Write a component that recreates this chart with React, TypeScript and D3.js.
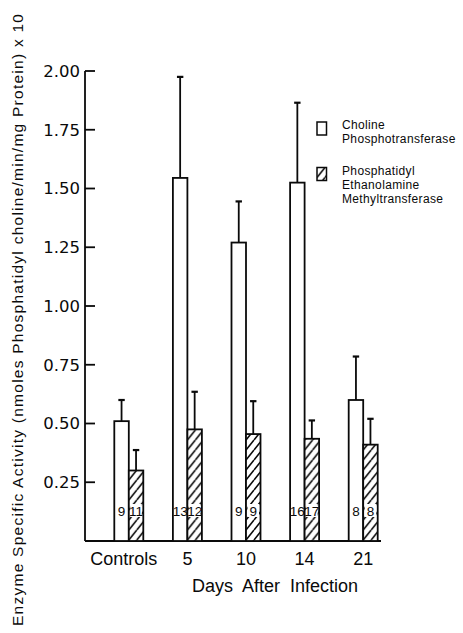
import React, { useEffect, useRef } from 'react';
import * as d3 from 'd3';

const categories = ['Controls', '5', '10', '14', '21'];
const cholineMean = [0.51, 1.545, 1.27, 1.525, 0.6];
const cholineSE = [0.09, 0.43, 0.175, 0.34, 0.185];
const cholineN = ['9', '13', '9', '16', '8'];
const pemtMean = [0.3, 0.475, 0.455, 0.435, 0.41];
const pemtSE = [0.087, 0.16, 0.14, 0.078, 0.11];
const pemtN = ['11', '12', '9', '17', '8'];
const yTicks = [0.25, 0.5, 0.75, 1.0, 1.25, 1.5, 1.75, 2.0];

const legendItems = [
  { hatched: false, lines: ['Choline', 'Phosphotransferase'] },
  { hatched: true, lines: ['Phosphatidyl', 'Ethanolamine', 'Methyltransferase'] },
];

export default function App() {
  const svgRef = useRef<SVGSVGElement>(null);

  useEffect(() => {
    const svg = d3.select(svgRef.current);
    svg.selectAll('*').remove();

    const font = 'Liberation Sans, Arial, sans-serif';
    const axisX = 85;
    const baseY = 541;
    const barW = 14.5;
    const ink = '#0a0a0a';

    const x = d3.scaleBand().domain(categories).range([99.5, 392.5]).padding(0);
    const y = d3.scaleLinear().domain([0, 2]).range([baseY, 71]);

    // "/" hatching, one stripe per tile so it repeats cleanly
    const pw = 8;
    const ph = 10;
    const defs = svg.append('defs');
    const pat = defs
      .append('pattern')
      .attr('id', 'hatch')
      .attr('patternUnits', 'userSpaceOnUse')
      .attr('width', pw)
      .attr('height', ph);
    pat.append('rect').attr('width', pw).attr('height', ph).attr('fill', '#fff');
    pat
      .append('path')
      .attr(
        'd',
        `M0,${ph} L${pw},0 M${-pw},${ph} L0,0 M${pw},${ph} L${2 * pw},0`
      )
      .attr('stroke', ink)
      .attr('stroke-width', 1.6);

    // y axis
    svg
      .append('line')
      .attr('x1', axisX)
      .attr('x2', axisX)
      .attr('y1', y(2))
      .attr('y2', baseY)
      .attr('stroke', ink)
      .attr('stroke-width', 1.8);

    const ticks = svg.append('g');
    ticks
      .selectAll('line')
      .data(yTicks)
      .join('line')
      .attr('x1', axisX)
      .attr('x2', axisX + 10)
      .attr('y1', (d) => y(d))
      .attr('y2', (d) => y(d))
      .attr('stroke', ink)
      .attr('stroke-width', 1.8);
    ticks
      .selectAll('text')
      .data(yTicks)
      .join('text')
      .attr('x', 80)
      .attr('y', (d) => y(d))
      .attr('dy', '0.36em')
      .attr('text-anchor', 'end')
      .attr('font-family', 'DejaVu Sans, sans-serif')
      .attr('font-size', 16.5)
      .attr('fill', ink)
      .text((d) => d.toFixed(2));

    // baseline
    svg
      .append('line')
      .attr('x1', axisX)
      .attr('x2', 381)
      .attr('y1', baseY)
      .attr('y2', baseY)
      .attr('stroke', ink)
      .attr('stroke-width', 1.8);

    const groups = svg
      .append('g')
      .selectAll('g')
      .data(categories)
      .join('g')
      .attr('transform', (d) => `translate(${x(d) + x.bandwidth() / 2},0)`);

    // error bars first, so bars sit over them
    const drawErr = (cx, mean, se) => (g) => {
      const top = y(mean + se);
      g.append('line')
        .attr('x1', cx)
        .attr('x2', cx)
        .attr('y1', y(mean))
        .attr('y2', top)
        .attr('stroke', ink)
        .attr('stroke-width', 1.8);
      g.append('line')
        .attr('x1', cx - 3.2)
        .attr('x2', cx + 3.2)
        .attr('y1', top)
        .attr('y2', top)
        .attr('stroke', ink)
        .attr('stroke-width', 2.2);
    };

    groups.each(function (d, i) {
      const g = d3.select(this);
      g.call(drawErr(-barW / 2, cholineMean[i], cholineSE[i]));
      g.call(drawErr(barW / 2, pemtMean[i], pemtSE[i]));

      g.append('rect')
        .attr('x', -barW)
        .attr('y', y(cholineMean[i]))
        .attr('width', barW)
        .attr('height', baseY - y(cholineMean[i]))
        .attr('fill', '#fff')
        .attr('stroke', ink)
        .attr('stroke-width', 1.8);
      g.append('rect')
        .attr('x', 0)
        .attr('y', y(pemtMean[i]))
        .attr('width', barW)
        .attr('height', baseY - y(pemtMean[i]))
        .attr('fill', 'url(#hatch)')
        .attr('stroke', ink)
        .attr('stroke-width', 1.8);

      // sample sizes
      g.append('rect')
        .attr('x', 1.5)
        .attr('y', 504)
        .attr('width', barW - 3)
        .attr('height', 13)
        .attr('fill', '#fff');
      g.append('text')
        .attr('x', -barW / 2)
        .attr('y', 516)
        .attr('text-anchor', 'middle')
        .attr('font-family', font)
        .attr('font-size', 13.5)
        .attr('fill', ink)
        .text(cholineN[i]);
      g.append('text')
        .attr('x', barW / 2)
        .attr('y', 516)
        .attr('text-anchor', 'middle')
        .attr('font-family', font)
        .attr('font-size', 13.5)
        .attr('fill', ink)
        .text(pemtN[i]);

      g.append('text')
        .attr('x', i === 0 ? -5 : 0)
        .attr('y', 565)
        .attr('text-anchor', 'middle')
        .attr('font-family', font)
        .attr('font-size', 18)
        .attr('fill', ink)
        .text(d);
    });

    svg
      .append('text')
      .attr('x', 275)
      .attr('y', 592)
      .attr('text-anchor', 'middle')
      .attr('font-family', font)
      .attr('font-size', 18)
      .attr('word-spacing', 5)
      .attr('fill', ink)
      .text('Days After Infection');

    svg
      .append('text')
      .attr('transform', 'translate(23,320) rotate(-90)')
      .attr('text-anchor', 'middle')
      .attr('font-family', font)
      .attr('font-size', 15.5)
      .attr('textLength', 612)
      .attr('lengthAdjust', 'spacing')
      .attr('fill', ink)
      .text('Enzyme Specific Activity (nmoles Phosphatidyl choline/min/mg Protein) x 10');

    // legend
    const legend = svg
      .append('g')
      .selectAll('g')
      .data(legendItems)
      .join('g')
      .attr('transform', (d, i) => `translate(317,${122 + i * 45.5})`);
    legend
      .append('rect')
      .attr('width', 9.5)
      .attr('height', 13)
      .attr('fill', (d) => (d.hatched ? 'url(#hatch)' : '#fff'))
      .attr('stroke', ink)
      .attr('stroke-width', 1.5);
    legend
      .selectAll('text')
      .data((d) => d.lines)
      .join('text')
      .attr('x', 25)
      .attr('y', (d, i) => 7 + i * 14)
      .attr('font-family', font)
      .attr('font-size', 12)
      .attr('letter-spacing', 0.35)
      .attr('fill', ink)
      .text((d) => d);
  }, []);

  return (
    <svg
      ref={svgRef}
      width={463}
      height={633}
      style={{ position: 'absolute', left: 0, top: 0, background: '#fff' }}
    />
  );
}
